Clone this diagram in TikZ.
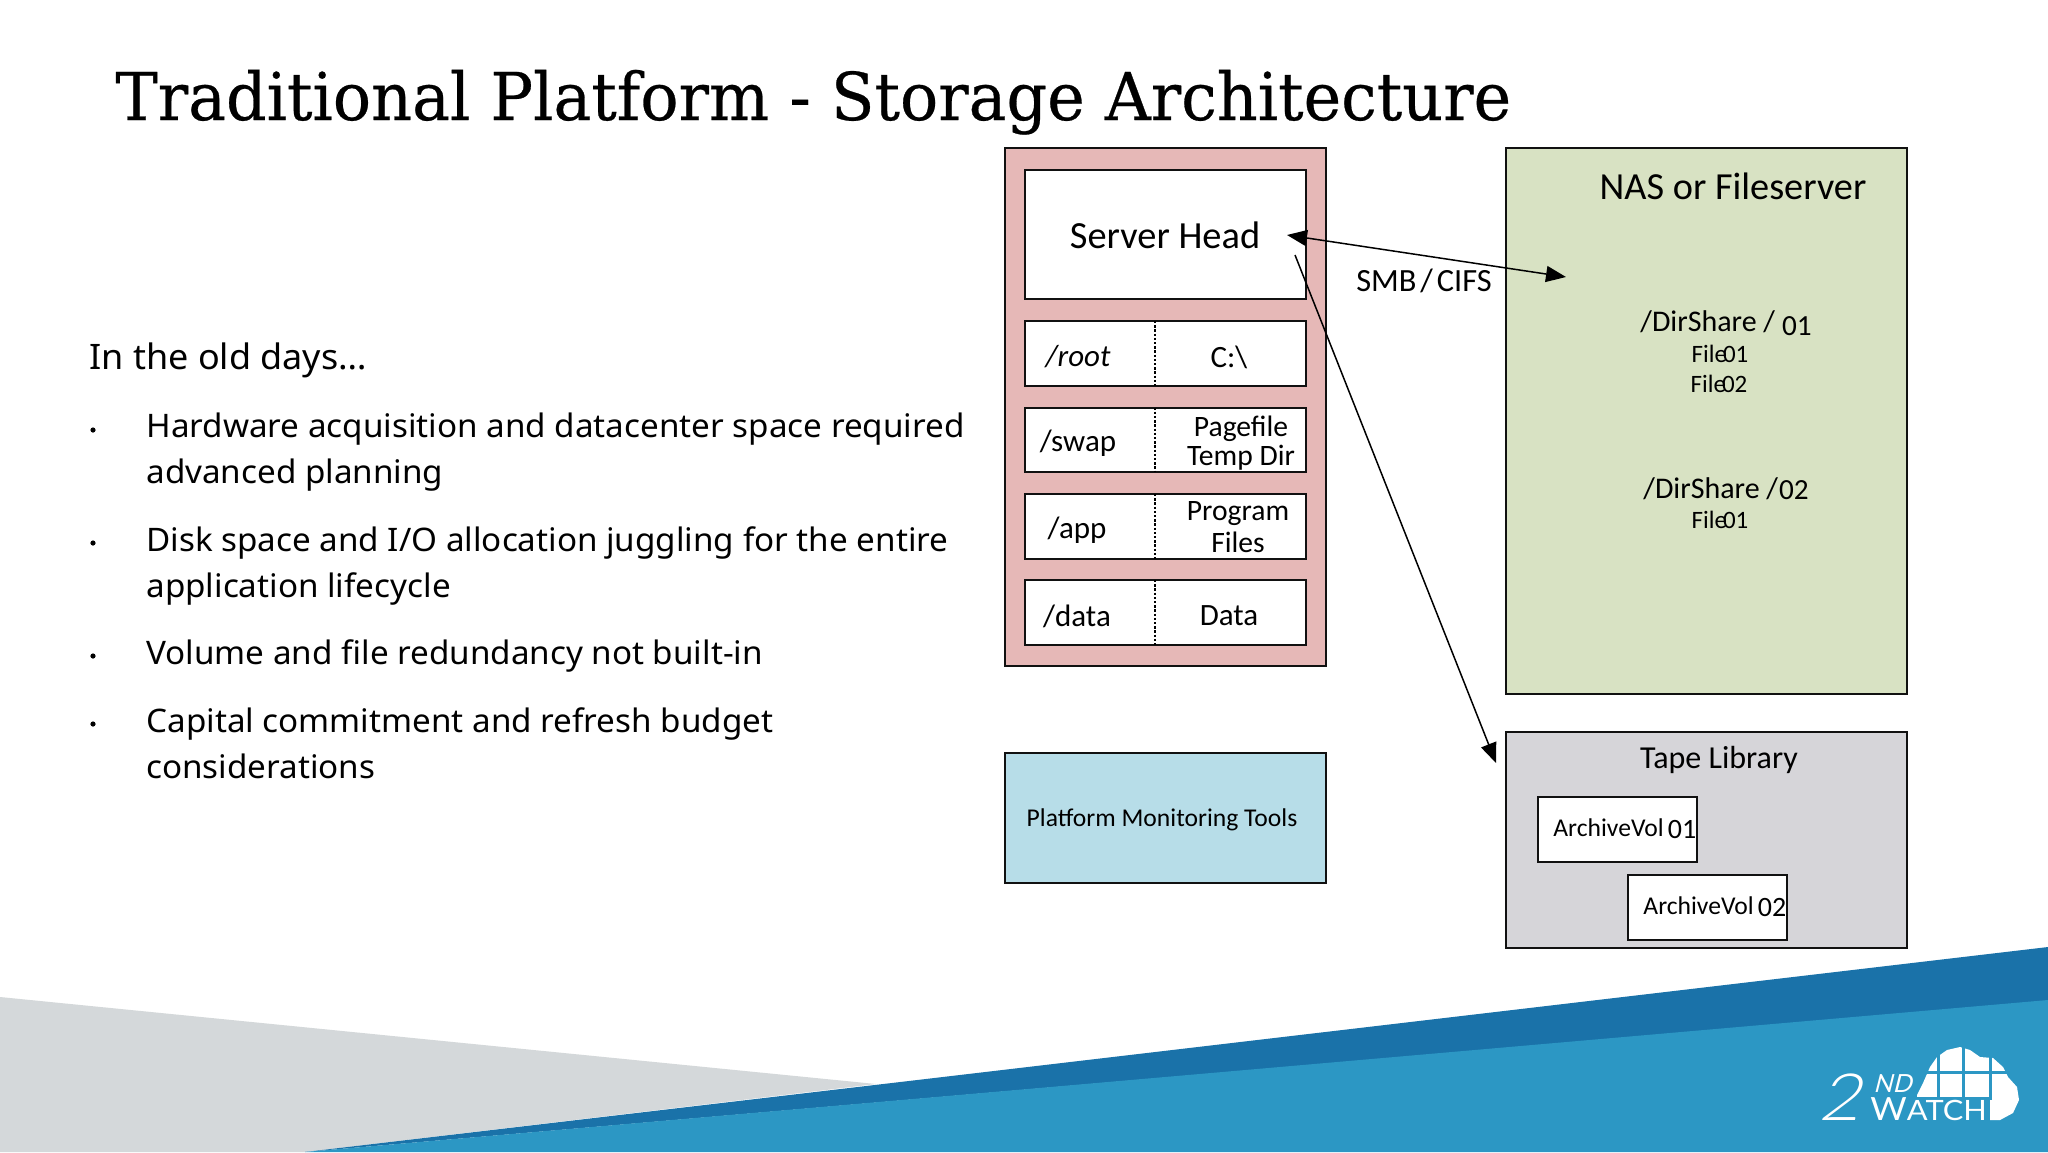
\documentclass[tikz,border=0pt]{standalone}
\usepackage{fontspec}
\setmainfont[FakeStretch=1.025]{Noto Sans}
\newfontfamily\titlefont[FakeStretch=1.07,FakeBold=0.4]{DejaVu Serif Condensed}
\newfontfamily\dgm{Carlito}
\newfontfamily\logotwo[FakeSlant=0.25,FakeStretch=1.1]{Lato Light}
\newfontfamily\logond[FakeSlant=0.25]{Lato}
\newfontfamily\logowatch[FakeStretch=1.1]{Lato}
\usetikzlibrary{arrows.meta}
\definecolor{pinkbox}{HTML}{E6B8B7}
\definecolor{greenbox}{HTML}{D8E2C3}
\definecolor{graybox}{HTML}{D6D5D9}
\definecolor{bluebox}{HTML}{B7DDE8}
\definecolor{bandgray}{HTML}{D4D8DA}
\definecolor{banddark}{HTML}{1A72A9}
\definecolor{bandlight}{HTML}{2C97C4}
\definecolor{ink}{HTML}{111111}
\newcommand{\sz}[1]{\fontsize{#1}{#1}\selectfont}
\newcommand{\filetxt}[1]{File\kern-2pt #1}
\tikzset{
  x=0.5pt,y=-0.5pt,
  panel/.style={draw=ink,line width=1pt},
  lbl/.style={font=\dgm\sz{#1},text=black,inner sep=0pt,align=center},
  basetxt/.style={font=\dgm,text=black,inner sep=0pt,anchor=base west},
  body/.style={font=\sz{16.2},text=black,anchor=base west,inner sep=0pt},
  bullet/.style={circle,fill=black,inner sep=0pt,minimum size=2.6pt},
  arrowline/.style={draw=black,line width=0.75pt},
  tip/.style={-{Triangle[length=10pt,width=8pt]}},
  divider/.style={black,line width=1.2pt,dash pattern=on 1.2pt off 0.9pt},
}
\begin{document}
\begin{tikzpicture}
\useasboundingbox (0,0) rectangle (2048,1152);
\fill[white] (0,0) rectangle (2048,1152);
% bands
\fill[bandgray] (0,997) -- (876,1084) -- (305,1152) -- (0,1152) -- cycle;
\fill[banddark] (305,1152) -- (2048,947) -- (2048,1001) -- cycle;
\fill[bandlight] (305,1152) -- (2048,1000) -- (2048,1152) -- cycle;
% title
\node[anchor=base west,inner sep=0pt,font=\titlefont\sz{33}] (title) at (115,120) {Traditional Platform - Storage Architecture};
% body
\node[body,font=\sz{17.55}] (t0) at (89,369) {In the old days…};
\node[body] (t1a) at (146,437) {Hardware acquisition and datacenter space required};
\node[body] (t1b) at (146,483) {advanced planning};
\node[body] (t2a) at (146,551) {Disk space and I/O allocation juggling for the entire};
\node[body] (t2b) at (146,597) {application lifecycle};
\node[body] (t3) at (146,664) {Volume and file redundancy not built-in};
\node[body] (t4a) at (146,732) {Capital commitment and refresh budget};
\node[body] (t4b) at (146,778) {considerations};
\node[bullet] (b1) at (93,430) {};
\node[bullet] (b2) at (93,543) {};
\node[bullet] (b3) at (93,656) {};
\node[bullet] (b4) at (93,724) {};
% server
\path[panel,fill=pinkbox] (1005,148) rectangle (1326,666);
\path[panel,fill=white] (1025,170) rectangle (1306,299);
\node[lbl=19.2] (head) at (1165,235) {Server Head};
\foreach \a/\b in {321/386,407.5/472,494/558.5,580/645}{
  \path[panel,fill=white] (1025,\a) rectangle (1306,\b);
  \draw[divider] (1155,\a) -- (1155,\b);
}
\node[lbl=15.5] (r1a) at (1078,357) {\itshape /root};
\node[lbl=15.5] (r1b) at (1229,357) {C:\textbackslash};
\node[lbl=15.5] (r2a) at (1078,443) {/swap};
\node[lbl=14.8] (r2b) at (1241,443) {Pagefile\\[-0.4pt]Temp Dir};
\node[lbl=15.5] (r3a) at (1077,530) {/app};
\node[lbl=14.8] (r3b) at (1238,527) {Program\\[1.5pt]Files};
\node[lbl=15.5] (r4a) at (1077,616) {/data};
\node[lbl=15.5] (r4b) at (1229,616) {Data};
% monitor
\path[panel,fill=bluebox] (1005,753) rectangle (1326,883);
\node[lbl=12.8] (mon) at (1162,820) {Platform Monitoring Tools};
% NAS
\path[panel,fill=greenbox] (1506,148) rectangle (1907,694);
\node[lbl=19.15] (nas) at (1733,186) {NAS or Fileserver};
\node[basetxt] (d1) at (1640,331) {\sz{15}/DirShare /\kern3.5pt\sz{14.6}\raisebox{-2pt}{01}};
\node[lbl=12.5] (f1) at (1720,354) {\filetxt{01}};
\node[lbl=12.5] (f2) at (1719,384) {\filetxt{02}};
\node[basetxt] (d2) at (1643,498) {\sz{15}/DirShare /\kern0.5pt\sz{14.6}\raisebox{-0.5pt}{02}};
\node[lbl=12.5] (f3) at (1720,520) {\filetxt{01}};
% tape
\path[panel,fill=graybox] (1506,732) rectangle (1907,948);
\node[lbl=16] (tape) at (1719,760) {Tape Library};
\path[panel,fill=white] (1538,797) rectangle (1697,862);
\path[panel,fill=white] (1628,875) rectangle (1787,940);
\node[basetxt] (v1) at (1553,836) {\sz{12.8}ArchiveVol\kern2pt\sz{14}\raisebox{-1pt}{01}};
\node[basetxt] (v2) at (1643,914) {\sz{12.8}ArchiveVol\kern2pt\sz{14}\raisebox{-1pt}{02}};
% connectors
\node[lbl=16.2] (smb) at (1424,281) {SMB\kern2pt/\kern2pt CIFS};
\coordinate (ah) at (1287,235);
\coordinate (an) at (1566,277);
\coordinate (bs) at (1295,255);
\coordinate (bt) at (1496,763);
\draw[arrowline,{Triangle[length=10pt,width=8pt]}-{Triangle[length=10pt,width=8pt]}] (ah) -- (an);
\draw[arrowline,tip] (bs) -- (bt);
% logo
\fill[white] (1917,1098) -- (1917,1095) -- (1923,1083) -- (1930,1067) -- (1937,1057) -- (1947,1050) -- (1960,1047) -- (1970,1050) -- (1980,1057) -- (1993,1058) -- (2003,1067) -- (2008,1077) -- (2017,1087) -- (2019,1100) -- (2013,1113) -- (2000,1120) -- (1990,1120) -- (1990,1098) -- cycle;
\draw[bandlight,line width=1.5pt] (1938,1040) -- (1938,1098) (1963,1040) -- (1963,1098) (1990,1040) -- (1990,1098) (1910,1072) -- (2025,1072) (1910,1098) -- (1992,1098);
\node[white,anchor=base west,inner sep=0pt,font=\logotwo\sz{32.6}] (l2) at (1818,1120) {2};
\node[white,anchor=base west,inner sep=0pt,font=\logond\sz{12.5}] (lnd) at (1873,1092) {ND};
\node[white,anchor=base west,inner sep=0pt,font=\logowatch\sz{14}] (lw) at (1870,1120) {{\sz{16}W}ATCH};
\end{tikzpicture}
\end{document}
